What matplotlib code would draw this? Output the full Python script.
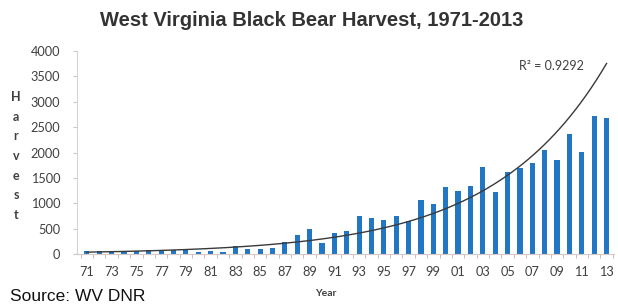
import matplotlib.pyplot as plt
import numpy as np

# WV black bear harvest
anios = list(range(1971, 2014))
cosecha = [60, 55, 55, 65, 60, 75, 65, 85, 70, 40, 60, 30, 160, 100, 95, 120,
           230, 370, 490, 215, 410, 445, 745, 712, 673, 751, 660, 1065, 987,
           1330, 1250, 1346, 1711, 1228, 1614, 1686, 1784, 2058, 1862, 2372,
           2006, 2718, 2685]
etiquetas = ["%02d" % (a % 100) for a in anios[::2]]
texto_r2 = "R² = 0.9292"

# exponential trend line (like excel)
coef = np.polyfit(anios, np.log(cosecha), 1)
xs = np.linspace(1971, 2013, 200)
ys = np.exp(np.polyval(coef, xs))

fig = plt.figure(figsize=(6.18, 3.05), dpi=100)
ax = fig.add_axes([77 / 618, 51 / 305, 537 / 618, 203 / 305])

ax.bar(anios, cosecha, width=0.42, color="#2277c5", zorder=2)
ax.plot(xs, ys, color="#3a3a3a", lw=1.0, zorder=3)

ax.set_xlim(1970.2, 2013.6)
ax.set_ylim(0, 4000)
ax.set_yticks(range(0, 4001, 500))
ax.set_xticks(anios[::2])
ax.set_xticklabels(etiquetas)
ax.set_xticks(np.arange(1970.5, 2014, 1), minor=True)

for s in ["top", "right"]:
    ax.spines[s].set_visible(False)
ax.spines["left"].set_color("#d4d4d4")
ax.spines["bottom"].set_color("#d8c8c8")

fuente = ["Lato", "DejaVu Sans"]
ax.tick_params(axis="x", which="major", length=0, pad=9, labelsize=9.2, labelcolor="#404040")
ax.tick_params(axis="x", which="minor", length=3, color="#d0a8a8")
ax.tick_params(axis="y", length=3, color="#c8c8c8", pad=9, labelsize=9.2, labelcolor="#404040")
for t in ax.get_xticklabels() + ax.get_yticklabels():
    t.set_family(fuente)

ax.text(2011.2, 3700, texto_r2, fontsize=9, color="#404040", family=fuente,
        ha="right", va="center")

fig.text(312 / 618, 1 - 20 / 305, "West Virginia Black Bear Harvest, 1971-2013",
         fontsize=14.5, fontweight="bold", color="#333333",
         family=["Liberation Sans", "DejaVu Sans"], ha="center", va="center")
fig.text(16 / 618, 1 - 156 / 305, "H\na\nr\nv\ne\ns\nt", fontsize=9, fontweight="bold",
         color="#404040", family=fuente, ha="center", va="center", linespacing=1.76)
fig.text(326 / 618, 1 - 294 / 305, "Year", fontsize=7.5, fontweight="bold",
         color="#404040", family=fuente, ha="center", va="center")
fig.text(10 / 618, 1 - 304 / 305, "Source: WV DNR", fontsize=12.5, color="#111111",
         family=["Liberation Sans", "DejaVu Sans"], ha="left", va="bottom")

fig.savefig("out.png", dpi=100)
